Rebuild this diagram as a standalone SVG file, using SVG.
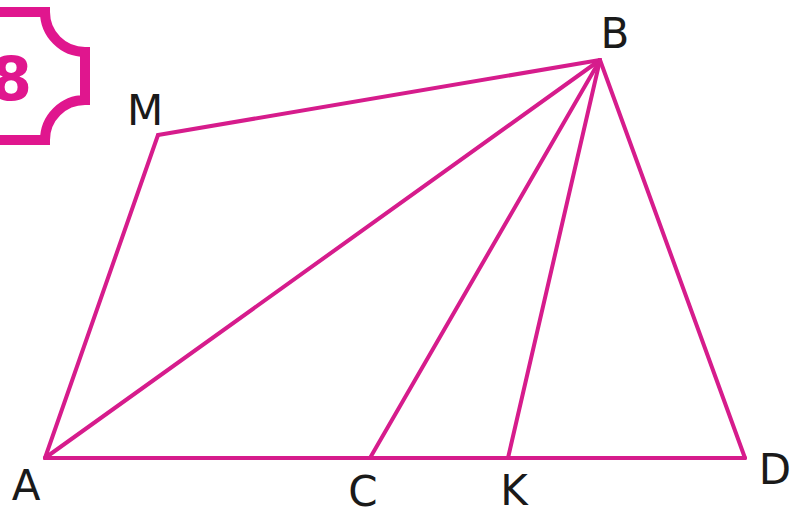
<svg xmlns="http://www.w3.org/2000/svg" width="790" height="510" viewBox="0 0 790 510">
<style>
.ln{stroke:#D61C8C;stroke-width:4;fill:none;stroke-linecap:round;stroke-linejoin:round}
.lb{font-family:"DejaVu Sans",Verdana,sans-serif;font-size:42px;fill:#1a1a1a}
</style>
<rect width="790" height="510" fill="#fff"/>
<g id="badge">
<path d="M-10,12 H45 A40,40 0 0 0 85,52 V100 A40,40 0 0 0 45,140 H-10" fill="none" stroke="#E0168E" stroke-width="10"/>
<text x="32" y="100" text-anchor="end" font-family="DejaVu Sans,sans-serif" font-weight="bold" font-size="60" fill="#E0168E">8</text>
</g>
<g id="connectors">
<line class="ln" x1="158" y1="135" x2="600" y2="60"/>
<line class="ln" x1="158" y1="135" x2="45" y2="458"/>
<line class="ln" x1="45" y1="458" x2="600" y2="60"/>
<line class="ln" x1="370" y1="458" x2="600" y2="60"/>
<line class="ln" x1="508" y1="458" x2="600" y2="60"/>
<line class="ln" x1="745" y1="458" x2="600" y2="60"/>
<line class="ln" x1="45" y1="458" x2="745" y2="458"/>
</g>
<g id="A"><text class="lb" x="26" y="500" text-anchor="middle">A</text></g>
<g id="B"><text class="lb" x="615" y="48" text-anchor="middle">B</text></g>
<g id="M"><text class="lb" x="145" y="125" text-anchor="middle">M</text></g>
<g id="C"><text class="lb" x="363" y="506" text-anchor="middle">C</text></g>
<g id="K"><text class="lb" x="514" y="505" text-anchor="middle">K</text></g>
<g id="D"><text class="lb" x="775" y="484" text-anchor="middle">D</text></g>
</svg>
